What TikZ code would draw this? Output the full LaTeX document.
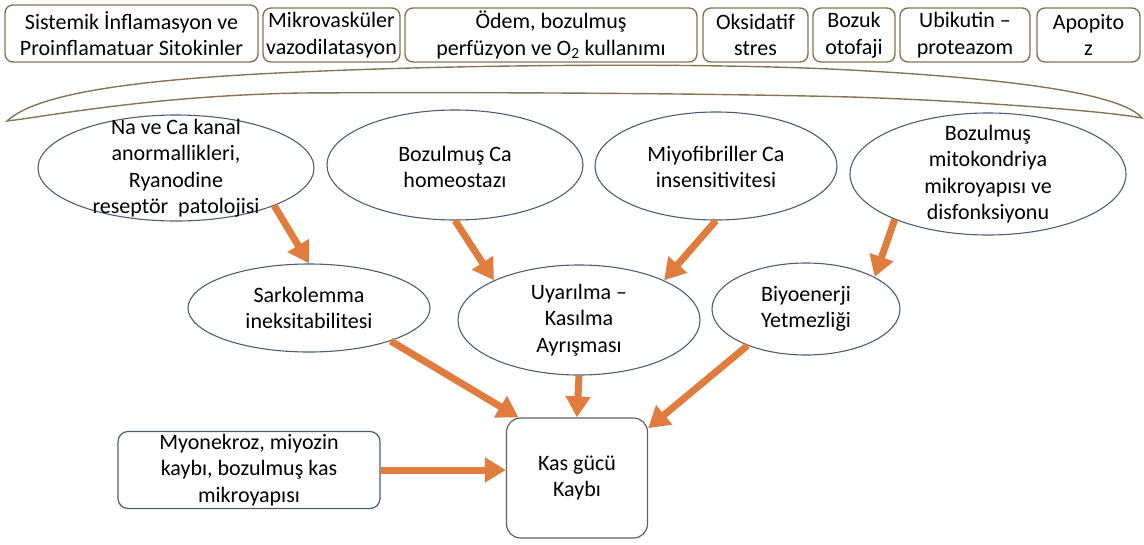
\documentclass[tikz,border=0pt]{standalone}
\usepackage{fontspec}
\setmainfont{Carlito}
\usetikzlibrary{shapes.geometric,arrows.meta}
\definecolor{kahve}{RGB}{133,117,82}
\definecolor{arduvaz}{RGB}{78,94,114}
\definecolor{turuncu}{RGB}{224,125,62}
\definecolor{koyugri}{RGB}{96,96,96}
\newcommand\yazi{\fontsize{22}{26.5}\selectfont}
\begin{document}
\begin{tikzpicture}[x=1pt,y=-1pt,every node/.style={font=\yazi,align=center,inner sep=0pt},
  kutu/.style={draw=kahve,line width=1.4pt,rounded corners=8pt},
  elips/.style={ellipse,draw=arduvaz,line width=1.1pt},
  ok/.style={-{Triangle[width=24pt,length=21pt]},line width=7pt,draw=turuncu}]
\useasboundingbox (0,0) rectangle (1144,544);
% ust kutular
\foreach \i/\x/\y/\w/\h/\v in {1/131.5/33.5/253/57/{Sistemik İnflamasyon ve\\Proinflamatuar Sitokinler},
    2/331.5/35/137/54/{Mikrovasküler\\vazodilatasyon},
    3/551/35/292/54/{Ödem, bozulmuş\\perfüzyon ve O\textsubscript{2} kullanımı},
    4/755.5/35/105/54/{Oksidatif\\stres},
    5/854/35/82/54/{Bozuk\\otofaji},
    6/965/35/130/54/{Ubikutin –\\proteazom},
    7/1088.5/35/103/54/{Apopito\\z}}
  \node[kutu,minimum width=\w,minimum height=\h] (t\i) at (\x,\y) {\v};
% kavis
\draw[kahve,line width=1.4pt] (7,121) .. controls (40,90) and (160,78) .. (300,72)
  .. controls (450,65) and (700,62) .. (850,70) .. controls (1000,78) and (1120,92) .. (1142,118)
  .. controls (1100,110) and (950,100) .. (850,97) .. controls (700,93) and (450,92) .. (300,93)
  .. controls (150,96) and (50,116) .. (7,121) -- cycle;
% elipsler
\node[elips,minimum width=276,minimum height=106] (e1) at (176,168) {};
\node[elips,minimum width=256,minimum height=110] (e2) at (455,165) {};
\node[elips,minimum width=242,minimum height=108] (e3) at (716,166) {};
\node[elips,minimum width=276,minimum height=122] (e4) at (988,174) {};
\node[elips,minimum width=242,minimum height=88] (e5) at (309,308) {};
\node[elips,minimum width=242,minimum height=110] (e6) at (579,320) {};
\node[elips,minimum width=188,minimum height=92] (e7) at (806,309) {};
\node at (e1) {Na ve Ca kanal\\anormallikleri,\\Ryanodine\\reseptör\ \ patolojisi};
\node at (455,167) {Bozulmuş Ca\\homeostazı};
\node at (716,167) {Miyofibriller Ca\\insensitivitesi};
\node at (e4) {Bozulmuş\\mitokondriya\\mikroyapısı ve\\disfonksiyonu};
\node at (e5) {Sarkolemma\\ineksitabilitesi};
\node at (e6) {Uyarılma –\\Kasılma\\Ayrışması};
\node at (e7) {Biyoenerji\\Yetmezliği};
% alt kutular
\node[draw=arduvaz,line width=1.2pt,rounded corners=10pt,minimum width=262,minimum height=77] (myon) at (249,470)
  {Myonekroz, miyozin\\kaybı, bozulmuş kas\\mikroyapısı};
\node[draw=koyugri,line width=1.2pt,rounded corners=14pt,minimum width=141,minimum height=120] (kas) at (577,478)
  {Kas gücü\\Kaybı};
% oklar
\draw[ok] (e1.-21) -- (e5.north);
\draw[ok] (e2.south) -- (e6.155);
\draw[ok] (e3.south) -- (e6.25);
\draw[ok] (e4.206) -- (e7.25);
\draw[ok] (e5.-22) -- (kas.134);
\draw[ok] (e6.south) -- (kas.north);
\draw[ok] (e7.212) -- (kas.35);
\draw[ok] (myon.east) -- (myon.east -| kas.west);
\end{tikzpicture}
\end{document}
